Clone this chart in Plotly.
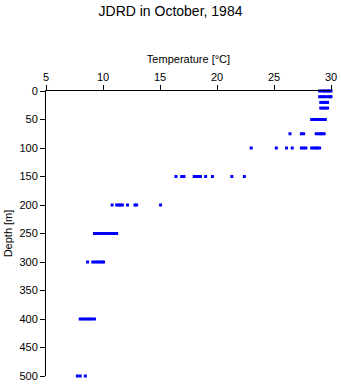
import plotly.graph_objects as go

# CTD cast: temperature readings (°C) grouped by sampling depth (m)
depths = [0, 10, 20, 30, 50, 75, 100, 150, 200, 250, 300, 400, 500]
temps_by_depth = [
    [29.0, 29.2, 29.4, 29.5, 29.7, 29.8, 30.0],
    [29.0, 29.2, 29.3, 29.5, 29.7, 29.9, 30.0],
    [29.1, 29.3, 29.4, 29.6, 29.7],
    [29.1, 29.3, 29.5, 29.7],
    [28.3, 28.5, 28.7, 28.9, 29.0, 29.2, 29.3, 29.5],
    [26.4, 27.4, 27.6, 28.7, 28.9, 29.1, 29.2, 29.4],
    [23.0, 25.2, 26.1, 26.6, 27.4, 27.6, 27.8, 28.3, 28.5, 28.7, 28.8, 29.0],
    [16.4, 16.9, 17.1, 18.0, 18.2, 18.4, 18.55, 19.0, 19.6, 21.3, 22.4],
    [10.8, 11.2, 11.4, 11.5, 11.7, 12.15, 12.8, 12.95, 15.05],
    [9.25, 9.45, 9.6, 9.8, 10.0, 10.2, 10.4, 10.6, 10.8, 11.0, 11.2],
    [8.65, 9.1, 9.3, 9.5, 9.7, 9.9, 10.05],
    [8.0, 8.2, 8.4, 8.6, 8.8, 9.0, 9.25],
    [7.75, 8.0, 8.45],
]
x_ticks = [5, 10, 15, 20, 25, 30]
y_ticks = [0, 50, 100, 150, 200, 250, 300, 350, 400, 450, 500]

xs, ys = [], []
for d, ts in zip(depths, temps_by_depth):
    for t in ts:
        xs.append(t)
        ys.append(d)

font = "Liberation Sans, Arial, sans-serif"

fig = go.Figure(
    go.Scatter(
        x=xs, y=ys, mode="markers",
        marker=dict(symbol="square", size=3, color="#0000ff", line=dict(width=0)),
        cliponaxis=False, hoverinfo="x+y",
    )
)

fig.update_layout(
    width=341, height=384,
    margin=dict(l=46, r=10, t=91, b=8),
    paper_bgcolor="white", plot_bgcolor="white",
    showlegend=False,
    font=dict(family=font, size=11, color="black"),
    title=dict(text="JDRD in October, 1984", x=0.5, xanchor="center",
               y=0.985, yanchor="top", font=dict(size=14, family=font)),
)
fig.update_xaxes(
    side="top", range=[5, 30], tickvals=x_ticks, automargin=False,
    showgrid=False, zeroline=False,
    showline=True, linecolor="black", linewidth=1,
    ticks="outside", ticklen=5, tickcolor="black",
    title=dict(text="Temperature [°C]", font=dict(size=11), standoff=4),
)
fig.update_yaxes(
    range=[500, 0], tickvals=y_ticks, automargin=False,
    showgrid=False, zeroline=False,
    showline=True, linecolor="black", linewidth=1,
    ticks="outside", ticklen=5, tickcolor="black",
    title=dict(text="Depth [m]", font=dict(size=11), standoff=4),
)

fig.write_html("out.html")
